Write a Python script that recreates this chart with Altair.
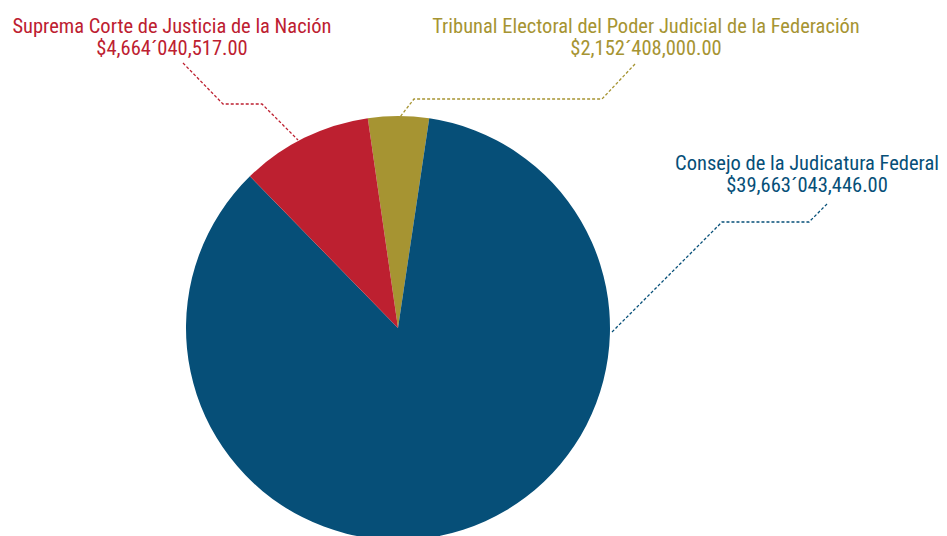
import math
import altair as alt
import pandas as pd

# --- data ---
names = [
    "Tribunal Electoral del Poder Judicial de la Federación",
    "Consejo de la Judicatura Federal",
    "Suprema Corte de Justicia de la Nación",
]
values = [2152408000.00, 39663043446.00, 4664040517.00]
amounts = ["$2,152´408,000.00", "$39,663´043,446.00", "$4,664´040,517.00"]
colors = ["#a69432", "#064f78", "#bd2030"]

# label anchors (pixel positions in the chart) and leader line vertices
label_x = [638, 799, 164]
label_y = [25, 162, 25]
leader_x = [
    [627, 594, 406, 392],
    [819, 801, 714, 604],
    [175, 215, 254, 290],
]
leader_y = [
    [56, 91, 91, 109],
    [196, 214, 214, 324],
    [55, 96, 96, 132],
]

FONT = '"Roboto Condensed", "Liberation Sans Narrow", Roboto, sans-serif'
start = 2 * math.pi - 0.143

pie_df = pd.DataFrame({"name": names, "value": values, "k": [0, 1, 2]})

arc = alt.Chart(pie_df).mark_arc(radius=212).encode(
    theta=alt.Theta("value:Q", stack=True,
                    scale=alt.Scale(range=[start, start + 2 * math.pi])),
    color=alt.Color("name:N", scale=alt.Scale(domain=names, range=colors), legend=None),
    order=alt.Order("k:Q"),
    x=alt.value(390),
    y=alt.value(320),
)

rows = []
for g in range(3):
    for i, (lx, ly) in enumerate(zip(leader_x[g], leader_y[g])):
        rows.append({"g": g, "i": i, "x": lx, "y": ly, "c": colors[g]})
lead_df = pd.DataFrame(rows)

leaders = alt.Chart(lead_df).mark_line(strokeWidth=1.3, strokeDash=[3, 2]).encode(
    x=alt.X("x:Q", scale=None),
    y=alt.Y("y:Q", scale=None),
    detail="g:N",
    order="i:Q",
    color=alt.Color("c:N", scale=None),
)

txt_rows = []
for g in range(3):
    txt_rows.append({"t": names[g], "x": label_x[g], "y": label_y[g], "c": colors[g]})
    txt_rows.append({"t": amounts[g], "x": label_x[g], "y": label_y[g] + 22, "c": colors[g]})
txt_df = pd.DataFrame(txt_rows)

texts = alt.Chart(txt_df).mark_text(
    font=FONT, fontSize=20.5, align="center", baseline="alphabetic"
).encode(
    x=alt.X("x:Q", scale=None),
    y=alt.Y("y:Q", scale=None),
    text="t:N",
    color=alt.Color("c:N", scale=None),
)

chart = alt.layer(arc, leaders, texts).properties(
    width=931, height=528, autosize="none", padding=0
).configure_view(stroke=None)

chart.save("out.html", embed_options={"renderer": "svg", "actions": False})
